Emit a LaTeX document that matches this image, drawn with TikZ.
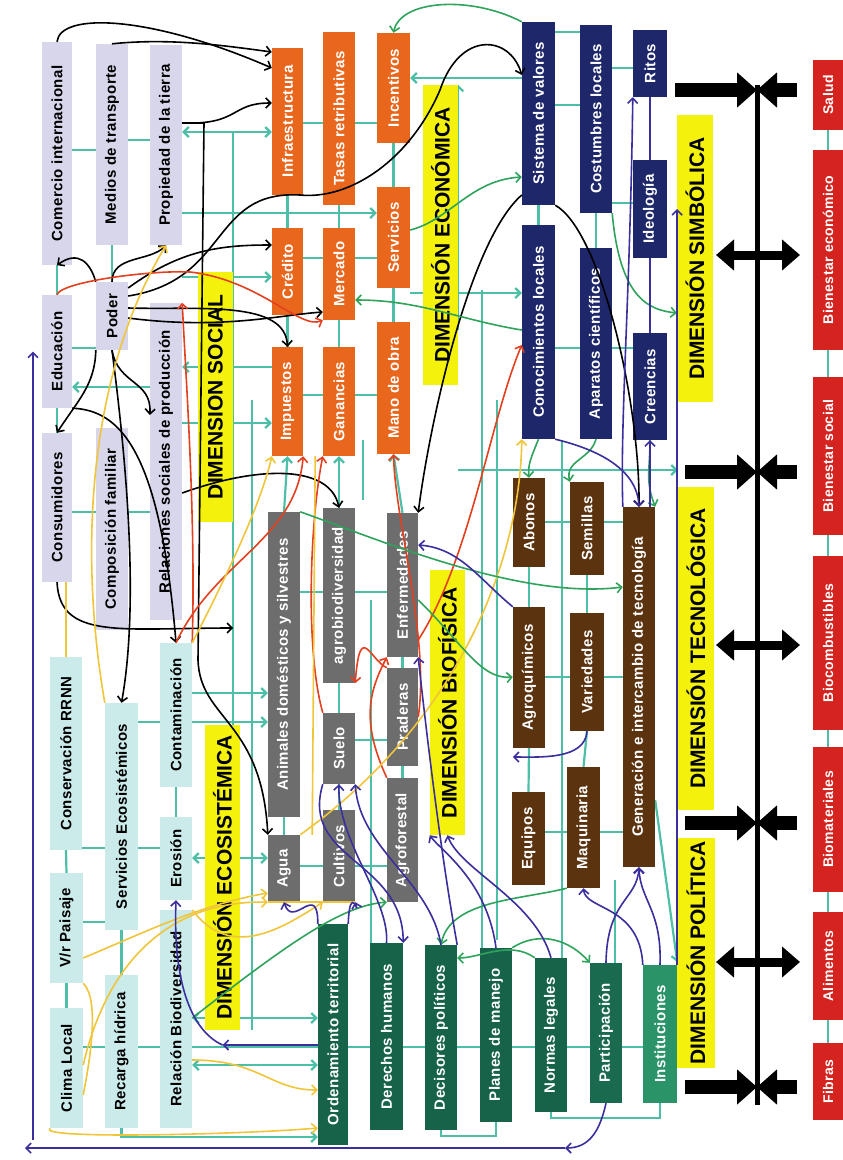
\documentclass[tikz,border=0pt]{standalone}
\usepackage{fontspec}
\setmainfont{Liberation Sans}
\newfontfamily\cajafont[LetterSpace=3.0]{Liberation Sans}
\usepackage{graphicx}
\usetikzlibrary{arrows.meta}
\pgfdeclarelayer{fondo}
\pgfsetlayers{fondo,main}

\definecolor{csocial}{HTML}{D8D6EB}
\definecolor{ceco}{HTML}{CBEBEA}
\definecolor{cecon}{HTML}{E9661D}
\definecolor{cbio}{HTML}{6D6D6D}
\definecolor{csimb}{HTML}{1E2769}
\definecolor{ctec}{HTML}{5C330F}
\definecolor{cpol}{HTML}{16634A}
\definecolor{cpolb}{HTML}{2A9468}
\definecolor{csalida}{HTML}{D52420}
\definecolor{cdim}{HTML}{F4F20C}
\definecolor{turquesa}{HTML}{4CBFA6}
\definecolor{verdeh}{HTML}{2FA35B}
\definecolor{rojoh}{HTML}{E2401F}
\definecolor{amarilloh}{HTML}{F0C53A}
\definecolor{moradoh}{HTML}{3A2F9C}

\tikzset{
  caja/.style={inner sep=0pt, text=white, font=\cajafont\bfseries\fontsize{15}{16}\selectfont},
  social/.style={caja, fill=csocial, text=black},
  ecosis/.style={caja, fill=ceco, text=black},
  econ/.style={caja, fill=cecon},
  bio/.style={caja, fill=cbio},
  simb/.style={caja, fill=csimb},
  tec/.style={caja, fill=ctec},
  salida/.style={caja, fill=csalida, font=\cajafont\bfseries\fontsize{14}{14}\selectfont},
  dimension/.style={fill=cdim, inner sep=0pt, font=\bfseries\fontsize{21}{21}\selectfont},
  enlace/.style={draw=turquesa, line width=2.2pt},
  flecha/.style={-{Straight Barb[length=5pt,width=10pt]}},
  dflecha/.style={{Straight Barb[length=5pt,width=10pt]}-{Straight Barb[length=5pt,width=10pt]}},
  negro/.style={draw=black, line width=1.6pt},
  rojo/.style={draw=rojoh, line width=1.6pt},
  amarillo/.style={draw=amarilloh, line width=1.6pt},
  verde/.style={draw=verdeh, line width=1.6pt},
  morado/.style={draw=moradoh, line width=1.6pt},
  barra/.style={line width=14pt, -{Triangle[length=20pt,width=34pt]}},
  doble/.style={line width=9pt, {Triangle[length=18pt,width=30pt]}-{Triangle[length=18pt,width=30pt]}}
}

\begin{document}
\begin{tikzpicture}[x=1pt,y=-1pt]

\begin{pgfonlayer}{fondo}
	\fill[white] (0,0) rectangle (843,1160);
\end{pgfonlayer}
\useasboundingbox (0,0) rectangle (843,1160);

% dimension social
	\foreach \nombre/\xa/\ya/\xb/\yb/\texto in {comercio/42/42/72/265/Comercio internacional,
		medios/96/44/128/245/Medios de transporte, propiedad/150/45/182/245/Propiedad de la tierra,
		educacion/42/295/72/408/Educación, poder/96/282/128/350/Poder,
		relaciones/150/303/182/620/Relaciones sociales de producción,
		consumidores/42/433/72/582/Consumidores, composicion/96/428/128/630/Composición familiar}
		\node[social, minimum width=(\xb-\xa)*1pt, minimum height=(\yb-\ya)*1pt] (\nombre) at ({(\xa+\xb)/2},{(\ya+\yb)/2}) {\rotatebox{90}{\texto}};

% dimension ecosistemica
	\foreach \nombre/\xa/\ya/\xb/\yb/\texto in {conservacion/50/657/82/850/Conservación RRNN,
		clima/50/1008/83/1128/Clima Local, servicioseco/105/703/138/930/Servicios Ecosistémicos,
		recarga/105/975/138/1128/Recarga hídrica, contaminacion/160/643/192/787/Contaminación,
		erosion/160/817/192/900/Erosión, biodiversidad/160/910/192/1128/Relación Biodiversidad}
		\node[ecosis, minimum width=(\xb-\xa)*1pt, minimum height=(\yb-\ya)*1pt] (\nombre) at ({(\xa+\xb)/2},{(\ya+\yb)/2}) {\rotatebox{90}{\texto}};
	\node[ecosis, minimum width=33pt, minimum height=110pt] (paisaje) at (66.5,928) {\rotatebox{90}{V/r Paisaje}};

% dimension economica
	\foreach \nombre/\xa/\ya/\xb/\yb/\texto in {infra/272/48/303/195/Infraestructura,
		tasas/323/32/355/205/Tasas retributivas, incentivos/377/33/410/143/Incentivos,
		credito/272/228/303/315/Crédito, mercado/323/228/355/320/Mercado, servicios/377/187/410/288/Servicios,
		impuestos/272/347/303/456/Impuestos, ganancias/323/347/355/456/Ganancias, manoobra/377/322/410/454/Mano de obra}
		\node[econ, minimum width=(\xb-\xa)*1pt, minimum height=(\yb-\ya)*1pt] (\nombre) at ({(\xa+\xb)/2},{(\ya+\yb)/2}) {\rotatebox{90}{\texto}};

% dimension biofisica
	\foreach \nombre/\xa/\ya/\xb/\yb/\texto in {animales/268/512/300/817/Animales domésticos y silvestres,
		agua/268/835/300/902/Agua, agrobio/323/508/355/683/agrobiodiversidad, suelo/323/713/355/784/Suelo,
		cultivos/323/810/355/902/Cultivos, enfermedades/387/513/418/657/Enfermedades,
		praderas/387/668/418/766/Praderas, agroforestal/387/778/418/902/Agroforestal}
		\node[bio, minimum width=(\xb-\xa)*1pt, minimum height=(\yb-\ya)*1pt] (\nombre) at ({(\xa+\xb)/2},{(\ya+\yb)/2}) {\rotatebox{90}{\texto}};

% dimension simbolica
	\foreach \nombre/\xa/\ya/\xb/\yb/\texto in {sistema/522/22/555/205/Sistema de valores,
		costumbres/580/25/612/213/Costumbres locales, ritos/633/30/667/97/Ritos,
		conocimientos/522/225/555/439/Conocimientos locales, aparatos/580/248/612/439/Aparatos científicos,
		ideologia/633/160/667/258/Ideología, creencias/633/333/667/440/Creencias}
		\node[simb, minimum width=(\xb-\xa)*1pt, minimum height=(\yb-\ya)*1pt] (\nombre) at ({(\xa+\xb)/2},{(\ya+\yb)/2}) {\rotatebox{90}{\texto}};

% dimension tecnologica
	\foreach \nombre/\xa/\ya/\xb/\yb/\texto in {abonos/513/478/545/567/Abonos, semillas/570/482/604/575/Semillas,
		generacion/623/507/655/867/Generación e intercambio de tecnología,
		agroquimicos/513/607/545/748/Agroquímicos, variedades/570/613/604/731/Variedades,
		equipos/512/792/545/885/Equipos, maquinaria/567/767/600/888/Maquinaria}
		\node[tec, minimum width=(\xb-\xa)*1pt, minimum height=(\yb-\ya)*1pt] (\nombre) at ({(\xa+\xb)/2},{(\ya+\yb)/2}) {\rotatebox{90}{\texto}};

% dimension politica
	\foreach \nombre/\xa/\ya/\xb/\yb/\tono/\texto in {ordenamiento/318/924/348/1145/cpol/Ordenamiento territorial,
		derechos/370/943/403/1130/cpol/Derechos humanos, decisores/425/945/457/1130/cpol/Decisores políticos,
		planes/480/948/512/1122/cpol/Planes de manejo, normas/535/958/567/1112/cpol/Normas legales,
		participacion/590/963/622/1103/cpol!85!cpolb/Participación, instituciones/643/965/677/1103/cpolb/Instituciones}
		\node[caja, fill=\tono, minimum width=(\xb-\xa)*1pt, minimum height=(\yb-\ya)*1pt] (\nombre) at ({(\xa+\xb)/2},{(\ya+\yb)/2}) {\rotatebox{90}{\texto}};

% rotulos de dimension
	\foreach \nombre/\xa/\ya/\xb/\yb/\texto in {dimsocial/198/272/233/522/DIMENSION SOCIAL,
		dimeco/205/725/240/1030/DIMENSIÓN ECOSISTÉMICA, dimecon/423/85/458/385/DIMENSIÓN ECONÓMICA,
		dimbio/430/570/465/835/DIMENSIÓN BIOFÍSICA, dimsimb/677/115/713/402/DIMENSIÓN SIMBÓLICA,
		dimtec/678/487/714/810/DIMENSIÓN TECNOLÓGICA, dimpol/677/838/715/1068/DIMENSIÓN POLÍTICA}
		\node[dimension, minimum width=(\xb-\xa)*1pt, minimum height=(\yb-\ya)*1pt] (\nombre) at ({(\xa+\xb)/2},{(\ya+\yb)/2}) {\rotatebox{90}{\texto}};

% salidas
	\foreach \nombre/\ya/\yb/\texto in {salud/60/130/Salud, bieneco/150/350/Bienestar económico,
		biensoc/377/535/Bienestar social, biocomb/556/730/Biocombustibles, biomat/747/892/Biomateriales,
		alimentos/912/1020/Alimentos, fibras/1043/1120/Fibras}
		\node[salida, minimum width=30pt, minimum height=(\yb-\ya)*1pt] (\nombre) at (828,{(\ya+\yb)/2}) {\rotatebox{90}{\texto}};

% eje negro
	\coordinate (ejesup) at (757,85);
	\coordinate (ejeinf) at (757,1105);
	\draw[line width=5pt] (ejesup) -- (ejeinf);
	\foreach \y/\xi in {90/675, 472/685, 823/685, 1087/685} {
		\draw[barra] (\xi,\y) -- (ejesup |- 0,\y);
		\draw[barra] (797,\y) -- (ejesup |- 0,\y);
	}
	\foreach \y in {255, 645, 962}
		\draw[doble] (716,\y) -- (800,\y);

% red turquesa (detras)
\begin{pgfonlayer}{fondo}
	\draw[enlace] (comercio.east |- 0,150) -- (medios.west |- 0,150);
	\draw[enlace] (medios.east |- 0,140) -- (propiedad.west |- 0,140);
	\draw[enlace] (comercio.south) -- (educacion.north);
	\draw[enlace] (educacion.south) -- (consumidores.north);
	\draw[enlace] (medios.south) -- (poder.north);
	\draw[enlace] (educacion.east |- 0,348) -- (poder.west |- 0,348);
	\draw[enlace,flecha] (relaciones.west |- 0,387) -- (educacion.east |- 0,387);
	\draw[enlace] (consumidores.east |- 0,512) -- (relaciones.west |- 0,512);
	\draw[enlace,dflecha] (propiedad.east |- 0,132) -- (infra.west |- 0,132);
	\draw[enlace,flecha] (propiedad.east |- 0,213) -- (servicios.west |- 0,213);
	\draw[enlace,flecha] (relaciones.north east |- 0,277) -- (credito.west |- 0,277);
	\draw[enlace,flecha] (relaciones.east |- 0,423) -- (impuestos.west |- 0,423);
	\draw[enlace,flecha] (impuestos.west |- 0,367) -- (relaciones.east |- 0,367);
	\draw[enlace] (infra.east |- 0,123) -- (incentivos.west |- 0,123);
	\draw[enlace,flecha] (sistema.west |- 0,78) -- (incentivos.east |- 0,78);
	\draw[enlace] (credito.east |- 0,258) -- (servicios.west |- 0,258);
	\draw[enlace] (impuestos.east |- 0,395) -- (manoobra.west |- 0,395);
	\foreach \a/\b in {infra/credito, tasas/mercado, incentivos/servicios, credito/impuestos, mercado/ganancias,
		servicios/manoobra, sistema/conocimientos, costumbres/aparatos, abonos/agroquimicos, semillas/variedades,
		agroquimicos/equipos, variedades/maquinaria, agrobio/suelo, suelo/cultivos, enfermedades/praderas,
		praderas/agroforestal, animales/agua, conservacion/paisaje, paisaje/clima, servicioseco/recarga,
		contaminacion/erosion}
		\draw[enlace] (\a.south) -- (\b.north);
	\foreach \a/\b in {animales/impuestos, agrobio/ganancias, enfermedades/manoobra}
		\draw[enlace,flecha] (\a.north) -- (\b.south);
	\draw[enlace,flecha] (servicios.east |- 0,293) -- (conocimientos.west |- 0,293);
	\draw[enlace,flecha] (dimecon.south east |- 0,330) -- (dimecon.north east);
	\draw[enlace] (sistema.east |- 0,32) -- (costumbres.west |- 0,32);
	\draw[enlace] (costumbres.east |- 0,68) -- (ritos.west |- 0,68);
	\draw[enlace] (sistema.east |- 0,105) -- (costumbres.west |- 0,105);
	\draw[enlace] (costumbres.east |- 0,203) -- (ideologia.west |- 0,203);
	\draw[enlace] (conocimientos.east |- 0,348) -- (creencias.west |- 0,348);
	\draw[enlace] (abonos.east |- 0,522) -- (generacion.west |- 0,522);
	\draw[enlace] (agroquimicos.east |- 0,677) -- (generacion.west |- 0,677);
	\draw[enlace] (equipos.east |- 0,832) -- (generacion.west |- 0,832);
	\draw[enlace,flecha] (dimecon.south east |- 0,470) -- (dimtec.west |- 0,470);
	\draw[enlace] (animales.east |- 0,592) -- (enfermedades.west |- 0,592);
	\draw[enlace] (suelo.east |- 0,740) -- (praderas.west |- 0,740);
	\draw[enlace] (agua.east |- 0,866) -- (agroforestal.west |- 0,866);
	\draw[enlace,flecha] (contaminacion.east |- 0,693) -- (animales.west |- 0,693);
	\draw[enlace,flecha] (servicioseco.east |- 0,722) -- (animales.west |- 0,722);
	\draw[enlace,dflecha] (erosion.east |- 0,858) -- (agua.west |- 0,858);
	\draw[enlace] (conservacion.east |- 0,848) -- (erosion.west |- 0,848);
	\draw[enlace] (paisaje.east |- 0,922) -- (servicioseco.west |- 0,922);
	\draw[enlace] (clima.east |- 0,1047) -- (instituciones.west |- 0,1047);
	\draw[enlace,dflecha] (biodiversidad.east |- 0,1065) -- (ordenamiento.west |- 0,1065);
	\draw[enlace,dflecha] (biodiversidad.east |- 0,1018) -- (ordenamiento.west |- 0,1018);
	\draw[enlace,flecha] (recarga.south) |- (ordenamiento.west |- 0,1137);
	\draw[enlace] (normas.south) -- ++(0,6) -| (instituciones.south);
	\draw[enlace] (decisores.south) -- ++(0,6) -| (planes.south);
	\draw[enlace,flecha] (generacion.south east |- 0,800) -- (instituciones.north east |- 0,962);
	\draw[enlace] (dimsocial.east |- 0,132) -- (dimsocial.east |- 0,990);
	\foreach \x/\ya/\yb in {252/400/1030, 482/290/950, 497/400/940, 562/440/960, 615/880/965, 363/440/500, 371/600/1000}
		\draw[enlace] (\x,\ya) -- (\x,\yb);
	\foreach \a/\b in {salud/bieneco, bieneco/biensoc, biensoc/biocomb, biocomb/biomat, biomat/alimentos, alimentos/fibras}
		\draw[enlace] (\a.south) -- (\b.north);
\end{pgfonlayer}

% flechas negras
	\draw[negro,flecha] (comercio.north) .. controls (60,12) and (150,15) .. (infra.west |- 0,68);
	\draw[negro,flecha] (medios.north) .. controls (170,38) and (220,45) .. (infra.west |- 0,52);
	\draw[negro,flecha] (propiedad.east |- 0,123) .. controls (240,125) and (230,103) .. (infra.west |- 0,103);
	\draw[negro,flecha] (propiedad.east |- 0,123) -- (204,123) -- (198,660) .. controls (200,720) and (262,720) .. (agua.north west);
	\draw[negro,flecha] (poder.north west) .. controls (90,262) and (78,250) .. (comercio.south);
	\draw[negro,flecha] (poder.north) .. controls (112,255) and (150,262) .. (propiedad.south);
	\draw[negro,flecha] (poder.east |- 0,288) .. controls (180,250) and (220,245) .. (credito.west |- 0,245);
	\draw[negro,flecha] (poder.east |- 0,296) .. controls (230,280) and (210,190) .. (300,195) .. controls (350,200) and (410,160) .. (440,90) .. controls (460,30) and (510,35) .. (sistema.west |- 0,75);
	\draw[negro,flecha] (poder.east |- 0,308) .. controls (200,310) and (285,300) .. (impuestos.north);
	\draw[negro,flecha] (poder.east |- 0,318) .. controls (220,330) and (280,315) .. (mercado.west |- 0,312);
	\draw[negro,flecha] (poder.south west) .. controls (95,385) and (78,400) .. (consumidores.north);
	\draw[negro,flecha] (poder.south) .. controls (118,385) and (152,380) .. (relaciones.west |- 0,415);
	\draw[negro,flecha] (poder.south) .. controls (125,450) and (140,600) .. (servicioseco.north);
	\draw[negro,flecha] (educacion.south east) .. controls (120,410) and (160,450) .. (contaminacion.north);
	\draw[negro,flecha] (consumidores.south) .. controls (60,640) and (120,628) .. (dimsocial.east |- 0,628);
	\draw[negro,flecha] (relaciones.east |- 0,493) .. controls (260,465) and (330,465) .. (agrobio.north);
	\draw[negro,flecha] (sistema.west |- 0,195) .. controls (470,240) and (430,420) .. (enfermedades.north east);
	\draw[negro,flecha] (sistema.south east) .. controls (600,230) and (640,400) .. (generacion.north);

% flechas rojas
	\draw[rojo,flecha] (educacion.north) .. controls (60,282) and (150,270) .. (190,272) .. controls (260,280) and (300,330) .. (mercado.south west);
	\draw[rojo,flecha] (contaminacion.north east) .. controls (196,520) and (186,380) .. (relaciones.north east);
	\draw[rojo,flecha] (contaminacion.north) .. controls (215,560) and (296,540) .. (impuestos.south east);
	\draw[rojo,flecha] (suelo.north west) .. controls (305,650) and (310,520) .. (ganancias.south west);
	\draw[rojo,flecha] (praderas.north west) .. controls (370,660) and (360,620) .. (agrobio.south east);
	\draw[rojo,flecha] (agroforestal.north west) .. controls (360,720) and (370,690) .. (enfermedades.south west);
	\draw[rojo,flecha] (praderas.east) .. controls (430,640) and (395,520) .. (manoobra.south);
	\draw[rojo,flecha] (enfermedades.east |- 0,640) .. controls (470,560) and (490,420) .. (conocimientos.west |- 0,345);

% flechas amarillas
	\draw[amarillo] (conservacion.north |- consumidores.south) -- (conservacion.north);
	\draw[amarillo,flecha] (servicioseco.north west) .. controls (80,560) and (85,380) .. (propiedad.south);
	\draw[amarillo,flecha] (clima.east |- 0,1065) .. controls (110,950) and (180,900) .. (agua.south west);
	\draw[amarillo,flecha] (paisaje.east |- 0,958) .. controls (150,930) and (200,905) .. (agua.west |- 0,893);
	\draw[amarillo,flecha] (biodiversidad.east |- 0,1060) .. controls (260,1060) and (270,1090) .. (ordenamiento.west |- 0,1090);
	\draw[amarillo,flecha] (contaminacion.north east) .. controls (230,570) and (262,500) .. (impuestos.south west);
	\draw[amarillo,flecha] (agua.north east) .. controls (460,720) and (520,560) .. (conocimientos.south west);
	\draw[amarillo,line width=2.5pt] (agua.south west) -- (cultivos.south east);
	\draw[amarillo] ([xshift=12pt]agua.north east) -- ([xshift=12pt]impuestos.south east);
	\draw[amarillo,flecha] (biodiversidad.north east) .. controls (230,960) and (280,930) .. (cultivos.south west);
	\draw[amarillo,flecha] (clima.south west) .. controls (35,1140) and (250,1134) .. (ordenamiento.west |- 0,1128);
	\draw[amarillo] (paisaje.south east) .. controls (100,1000) and (90,1060) .. (clima.east |- 0,1095);

% flechas verdes
	\draw[verde,flecha] (sistema.north west) .. controls (470,-5) and (400,0) .. (incentivos.north);
	\draw[verde,flecha] (servicios.east |- 0,230) .. controls (450,220) and (470,180) .. (sistema.west |- 0,177);
	\draw[verde,flecha] (costumbres.south east) .. controls (620,300) and (650,310) .. (dimsimb.west |- 0,313);
	\draw[verde,flecha] (conocimientos.west |- 0,330) .. controls (460,320) and (420,300) .. (mercado.east |- 0,300);
	\draw[verde,flecha] (biodiversidad.east |- 0,1018) .. controls (280,950) and (340,905) .. (agroforestal.south west);
	\draw[verde,flecha] (conocimientos.south) .. controls (530,460) and (528,465) .. (abonos.north);
	\draw[verde,flecha] (aparatos.south) .. controls (590,460) and (565,460) .. (semillas.north west);
	\draw[verde,flecha] (creencias.south) .. controls (650,470) and (645,480) .. (generacion.north east);
	\draw[verde,flecha] (animales.north east) .. controls (380,540) and (520,600) .. (generacion.west |- 0,587);
	\draw[verde,flecha] (enfermedades.east |- 0,600) .. controls (460,640) and (480,680) .. (agroquimicos.west |- 0,677);
	\draw[verde,flecha] (maquinaria.south west) .. controls (520,900) and (450,900) .. (decisores.north);
	\draw[verde,flecha] (planes.north east) .. controls (540,930) and (570,940) .. (participacion.north west);
	\draw[verde,flecha] (normas.north west) .. controls (510,940) and (480,958) .. (decisores.east |- 0,958);

% flechas moradas
	\coordinate (esquina) at (25,1148);
	\coordinate (retorno) at (565,1148);
	\coordinate (lateral) at (33,1140);
	\draw[morado,flecha] (participacion.south) .. controls (600,1130) and (590,1148) .. (retorno);
	\draw[morado,flecha] (retorno) -- (esquina);
	\draw[morado,flecha] (lateral) -- (lateral |- educacion.west);
	\draw[morado,flecha] (ordenamiento.north west) .. controls (318,880) and (293,930) .. (agua.south);
	\draw[morado,flecha] (ordenamiento.north east) .. controls (350,880) and (360,920) .. (cultivos.south east);
	\draw[morado,flecha] (derechos.north) .. controls (390,900) and (337,840) .. (suelo.south);
	\draw[morado,flecha] (decisores.north) .. controls (430,880) and (360,850) .. (suelo.south east);
	\draw[morado,flecha] (suelo.south west) .. controls (300,860) and (403,860) .. (derechos.north east);
	\draw[morado,flecha] (ordenamiento.west |- 0,1045) -- (dimeco.south |- 0,1045);
	\draw[morado,flecha] (dimeco.south |- 0,1045) .. controls (190,1030) and (173,980) .. (erosion.south);
	\draw[morado,flecha] (conocimientos.south east) .. controls (600,450) and (637,470) .. (generacion.north);
	\draw[morado,flecha] (generacion.north west) .. controls (620,420) and (630,300) .. (ritos.south west);
	\draw[morado,flecha] (creencias.south |- generacion.north) -- (creencias.south);
	\draw[morado] (ritos.south) -- (ideologia.north);
	\draw[morado] (ideologia.south) -- (creencias.north);
	\draw[morado,flecha] (instituciones.north east) -- (instituciones.north east |- ideologia.east);
	\draw[morado,flecha] (participacion.north) .. controls (607,900) and (637,900) .. (generacion.south);
	\draw[morado,flecha] (instituciones.north) .. controls (662,910) and (640,900) .. (generacion.south);
	\draw[morado,flecha] (instituciones.north west) .. controls (640,905) and (585,910) .. (maquinaria.south);
	\draw[morado,flecha] (variedades.south) .. controls (585,760) and (540,757) .. (agroquimicos.south west |- 0,757);
	\draw[morado,flecha] (planes.north) .. controls (487,880) and (440,850) .. (dimbio.south west);
	\draw[morado,flecha] (normas.north) .. controls (535,900) and (460,870) .. (dimbio.south);
	\draw[morado,flecha] (agroquimicos.north west) .. controls (480,580) and (460,548) .. (enfermedades.east |- 0,545);
	\draw[morado,flecha] (decisores.north east) .. controls (440,850) and (425,720) .. (enfermedades.south east);

\end{tikzpicture}
\end{document}
